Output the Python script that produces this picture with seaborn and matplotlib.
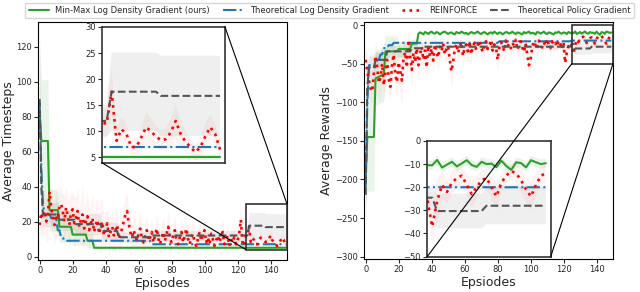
import numpy as np
import matplotlib
matplotlib.use("Agg")
import matplotlib.pyplot as plt
import seaborn as sns
from matplotlib.patches import Rectangle, ConnectionPatch

# ---- data ----
episodes = np.arange(150)

# left panel: Average Timesteps
green_l_levels = [82, 66, 26.5, 17, 12.5, 9, 5]
green_l_runs = [1, 5, 6, 8, 9, 4, 117]
green_l_std = [45, 35, 12, 9, 6, 4, 0.5]

blue_l_levels = [88, 50, 30, 24, 22, 15, 11, 9, 7]
blue_l_runs = [1, 1, 1, 4, 4, 2, 2, 53, 82]
blue_l_std = [20, 15, 8, 4, 4, 3, 2, 0.5, 0.3]

gray_l_levels = [90, 40, 24, 21, 18.5, 14.5, 11, 12, 17.6, 16.8]
gray_l_runs = [1, 1, 10, 10, 16, 10, 20, 59, 10, 13]
gray_l_std = [30, 20, 7, 6, 6, 5, 3, 3, 7.5, 7.7]

red_l = [18, 25, 22, 26, 20, 24, 37, 28, 22, 18,
         24, 21, 29, 30, 26, 20, 28, 23, 18, 25,
         27, 19, 22, 26, 17, 21, 24, 16, 20, 23,
         15, 19, 22, 14, 18, 21, 13, 17, 20, 12,
         16, 19, 11, 14, 17, 12, 15, 18, 10, 13,
         16, 20, 24, 26, 19, 14, 11, 15, 12, 9,
         13, 16, 10, 8, 12, 15, 9, 11, 14, 8,
         12, 16, 10, 7, 11, 14, 9, 13, 17, 10,
         8, 12, 15, 9, 7, 11, 14, 8, 12, 16,
         10, 7, 11, 13, 8, 6, 10, 14, 9, 12,
         15, 8, 11, 7, 13, 10, 6, 9, 12, 8,
         11, 14, 7, 9, 12, 6, 10, 8, 11, 7,
         9, 13, 21, 8, 6,
         11.6, 11.5, 17.6, 8.2, 10.4, 9.5, 7.0, 7.0, 8.8, 10.8,
         10.0, 9.0, 8.3, 8.5, 9.8, 12.0, 9.5, 8.0, 7.0, 6.0,
         7.0, 9.0, 10.8, 9.5, 6.5]
red_l_std = [8, 12, 10, 14, 12, 15, 12, 14, 10, 12,
             14, 10, 12, 10, 9, 15, 12, 10, 14, 12,
             10, 15, 12, 14, 10, 12, 18, 10, 12, 14,
             12, 10, 15, 10, 14, 12, 10, 16, 12, 10,
             10, 8, 12, 9, 10, 8, 12, 9, 8, 10,
             8, 10, 12, 9, 8, 10, 7, 9, 8, 6,
             8, 10, 7, 6, 8, 9, 6, 7, 8, 6,
             7, 9, 6, 5, 8, 9, 6, 7, 10, 6,
             5, 7, 9, 6, 5, 7, 8, 5, 7, 9,
             6, 5, 7, 8, 5, 4, 6, 8, 6, 7,
             8, 5, 6, 4, 7, 6, 4, 5, 7, 5,
             6, 8, 4, 5, 7, 4, 6, 5, 6, 4,
             5, 7, 10, 5, 4,
             2.5, 3, 4.5, 2, 2.5, 2, 1.5, 1.5, 2, 3,
             2.5, 2, 2, 2, 2.5, 3.5, 2.5, 2, 1.5, 1.5,
             2, 2.5, 2.5, 2, 2]

# right panel: Average Rewards
green_r = [-195, -145, -145, -145, -145, -145, -69, -68, -67, -66, -65, -64,
           -34, -34, -34, -34, -34, -34, -34, -34,
           -31, -31, -31, -31, -31, -31, -31, -31,
           -24, -24, -24, -24,
           -11, -9.5, -10.5, -12, -9, -10, -11.5, -9.5, -8.5, -10.5,
           -11, -9, -10, -12, -10.5, -9, -8.5, -10, -11.5, -10,
           -9.5, -11, -12, -9, -10, -10.5, -8.5, -9.5, -11, -10,
           -12, -10.5, -9, -10, -11, -9.5, -8.5, -10.5, -11.5, -10,
           -9, -10.5, -12, -10, -9.5, -11, -8.5, -10, -11.5, -9.5,
           -10, -12, -10.5, -9, -9.5, -11, -10, -8.5, -10.5, -11.5,
           -9.5, -10, -11, -12, -9, -10.5, -9.5, -8.5, -11, -10,
           -10.5, -12, -9, -9.5, -11, -10, -8.5, -10.5, -11.5, -9.5,
           -10, -11, -12, -9.5, -10, -8.5, -10.5, -11, -9.5, -10,
           -11.5, -9, -10,
           -10.5, -10.5, -8.2, -11.5, -10.2, -9, -11, -9.7, -8.3, -10.4,
           -11.2, -9, -10, -9.8, -11.3, -8.5, -10.8, -12.5, -9.2, -9.6,
           -11.4, -8.3, -9.2, -10, -9.6]
green_r_std_levels = [40, 70, 35, 20, 10, 6, 2]
green_r_std_runs = [1, 5, 6, 8, 8, 4, 118]

blue_r_levels = [-210, -100, -52, -45, -38, -30, -26, -23, -21, -20]
blue_r_runs = [1, 1, 5, 2, 2, 3, 3, 64, 44, 25]
blue_r_std = [40, 30, 15, 10, 8, 6, 4, 1, 1, 1]

gray_r_levels = [-220, -80, -55, -45, -34, -30, -28, -24.5, -30.3, -28]
gray_r_runs = [1, 1, 4, 7, 15, 7, 90, 2, 10, 13]
gray_r_std = [50, 25, 15, 10, 8, 6, 3, 4, 7.5, 8]

red_r = [-45, -60, -72, -82, -86, -62, -40, -55, -75, -68,
         -50, -78, -62, -45, -70, -80, -52, -38, -65, -74,
         -48, -60, -72, -42, -35, -55, -19, -40, -58, -36,
         -48, -30, -52, -38, -28, -45, -33, -55, -26, -40,
         -30, -46, -25, -36, -42, -28, -34, -24, -38, -31,
         -27, -45, -60, -48, -32, -24, -36, -29, -22, -40,
         -30, -25, -34, -21, -38, -27, -23, -32, -26, -20,
         -29, -35, -24, -21, -31, -27, -19, -33, -25, -28,
         -45, -30, -22, -26, -34, -20, -28, -24, -30, -23,
         -27, -19, -32, -25, -21, -29, -35, -24, -38, -52,
         -45, -28, -21, -26, -31, -20, -24, -29, -22, -27,
         -18, -25, -30, -21, -26, -23, -28, -20, -24, -31,
         -22, -49, -35, -27, -30,
         -25, -37, -26, -19, -22, -18, -16, -15, -19, -23,
         -20, -17, -16, -20, -24, -18, -15, -13, -14, -17,
         -21, -24, -19, -15, -14]
red_r_std = [20, 25, 22, 18, 15, 25, 20, 22, 25, 20,
             22, 18, 25, 20, 22, 15, 25, 20, 22, 18,
             25, 30, 35, 20, 18, 22, 12, 20, 25, 18,
             20, 15, 22, 18, 14, 20, 16, 22, 12, 18,
             14, 18, 12, 15, 18, 12, 14, 10, 15, 12,
             12, 18, 20, 18, 14, 10, 14, 12, 10, 15,
             12, 10, 14, 8, 14, 10, 9, 12, 10, 8,
             11, 13, 9, 8, 12, 10, 8, 12, 10, 11,
             15, 11, 8, 10, 12, 8, 10, 9, 11, 8,
             10, 7, 12, 9, 8, 11, 12, 9, 13, 15,
             14, 10, 8, 9, 11, 7, 9, 10, 8, 10,
             7, 9, 11, 8, 9, 8, 10, 7, 9, 11,
             8, 14, 12, 9, 10,
             5, 8, 10, 6, 5, 5, 4, 4, 5, 6,
             5, 4, 4, 5, 6, 4, 4, 4, 4, 5,
             6, 6, 5, 4, 4]

labels = ["Min-Max Log Density Gradient (ours)", "Theoretical Log Density Gradient",
          "REINFORCE", "Theoretical Policy Gradient"]
colors = ["#2ca02c", "#1f77b4", "red", "#555555"]
band_colors = ["#2ca02c", "#1f77b4", "red", "gray"]
styles = ["-", "-.", ":", "--"]
widths = [1.5, 1.5, 1.9, 1.5]
band_alpha = [0.1, 0.06, 0.05, 0.12]


def steps(levels, runs):
    return np.repeat(np.array(levels, dtype=float), runs)


series_l = [(steps(green_l_levels, green_l_runs), steps(green_l_std, green_l_runs)),
            (steps(blue_l_levels, blue_l_runs), steps(blue_l_std, blue_l_runs)),
            (np.array(red_l, float), np.array(red_l_std, float)),
            (steps(gray_l_levels, gray_l_runs), steps(gray_l_std, gray_l_runs))]
series_r = [(np.array(green_r, float), steps(green_r_std_levels, green_r_std_runs)),
            (steps(blue_r_levels, blue_r_runs), steps(blue_r_std, blue_r_runs)),
            (np.array(red_r, float), np.array(red_r_std, float)),
            (steps(gray_r_levels, gray_r_runs), steps(gray_r_std, gray_r_runs))]


def draw(ax, series):
    for (m, s), c, a in zip(series, band_colors, band_alpha):
        ax.fill_between(episodes, m - s, m + s, color=c, alpha=a, lw=0)
    for (m, s), c, ls, w, lab in zip(series, colors, styles, widths, labels):
        sns.lineplot(x=episodes, y=m, ax=ax, color=c, linestyle=ls, lw=w, label=lab)
    ax.get_legend().remove()


sns.set_style("ticks")
plt.rcParams["axes.edgecolor"] = "black"

fig = plt.figure(figsize=(6.4, 2.92), dpi=100)
ax1 = fig.add_axes([38 / 640, 32 / 292, 249 / 640, 238 / 292])
ax2 = fig.add_axes([364 / 640, 33 / 292, 249 / 640, 237 / 292])

draw(ax1, series_l)
draw(ax2, series_r)

ax1.set_xlim(-1, 150)
ax1.set_ylim(-2, 134)
ax1.set_yticks(range(0, 121, 20))
ax2.set_xlim(-1, 150)
ax2.set_ylim(-303, 4)
ax2.set_yticks(range(-300, 1, 50))
for ax in (ax1, ax2):
    ax.set_xticks(range(0, 141, 20))
    ax.tick_params(labelsize=6, length=3, pad=1.5)
ax1.set_xlabel("Episodes", fontsize=9, labelpad=1)
ax1.set_ylabel("Average Timesteps", fontsize=9, labelpad=1)
ax2.set_xlabel("Epsiodes", fontsize=9, labelpad=1)
ax2.set_ylabel("Average Rewards", fontsize=9, labelpad=1)

# insets
zoom_x = (125, 150)
zoom_l = (4, 30)
zoom_r = (-50, 0)

ins1 = ax1.inset_axes([0.256, 0.409, 0.495, 0.57])
draw(ins1, series_l)
ins1.set_xlim(*zoom_x)
ins1.set_ylim(*zoom_l)
ins1.set_yticks([5, 10, 15, 20, 25, 30])

ins2 = ax2.inset_axes([0.254, 0.01, 0.496, 0.488])
draw(ins2, series_r)
ins2.set_xlim(*zoom_x)
ins2.set_ylim(*zoom_r)
ins2.set_yticks([0, -10, -20, -30, -40, -50])

for ins in (ins1, ins2):
    ins.set_xticks([])
    ins.set_xlabel("")
    ins.set_ylabel("")
    ins.tick_params(labelsize=6, length=3, pad=1.5)
    for sp in ins.spines.values():
        sp.set_linewidth(1.2)
        sp.set_color("#333333")

ax1.add_patch(Rectangle((zoom_x[0], zoom_l[0]), zoom_x[1] - zoom_x[0], zoom_l[1] - zoom_l[0],
                        fill=False, ec="#333333", lw=1.2, clip_on=False, zorder=5))
ax2.add_patch(Rectangle((zoom_x[0], zoom_r[0]), zoom_x[1] - zoom_x[0], zoom_r[1] - zoom_r[0],
                        fill=False, ec="#333333", lw=1.2, clip_on=False, zorder=5))

for ax, ins, pairs in [
    (ax1, ins1, [((zoom_x[0], zoom_l[0]), (0, 0)), ((zoom_x[1], zoom_l[1]), (1, 1))]),
    (ax2, ins2, [((zoom_x[0], zoom_r[0]), (0, 0)), ((zoom_x[1], zoom_r[0]), (1, 0))]),
]:
    for pa, pb in pairs:
        con = ConnectionPatch(xyA=pa, coordsA="data", axesA=ax,
                              xyB=pb, coordsB="axes fraction", axesB=ins,
                              color="black", lw=0.8)
        fig.add_artist(con)

handles, labs = ax1.get_legend_handles_labels()
fig.legend(handles[:4], labels, loc="upper center", ncol=4, fontsize=6,
           bbox_to_anchor=(0.515, 1.005), frameon=True, handlelength=2.4,
           columnspacing=1.6, borderpad=0.4)

fig.savefig("out.png", dpi=100)
